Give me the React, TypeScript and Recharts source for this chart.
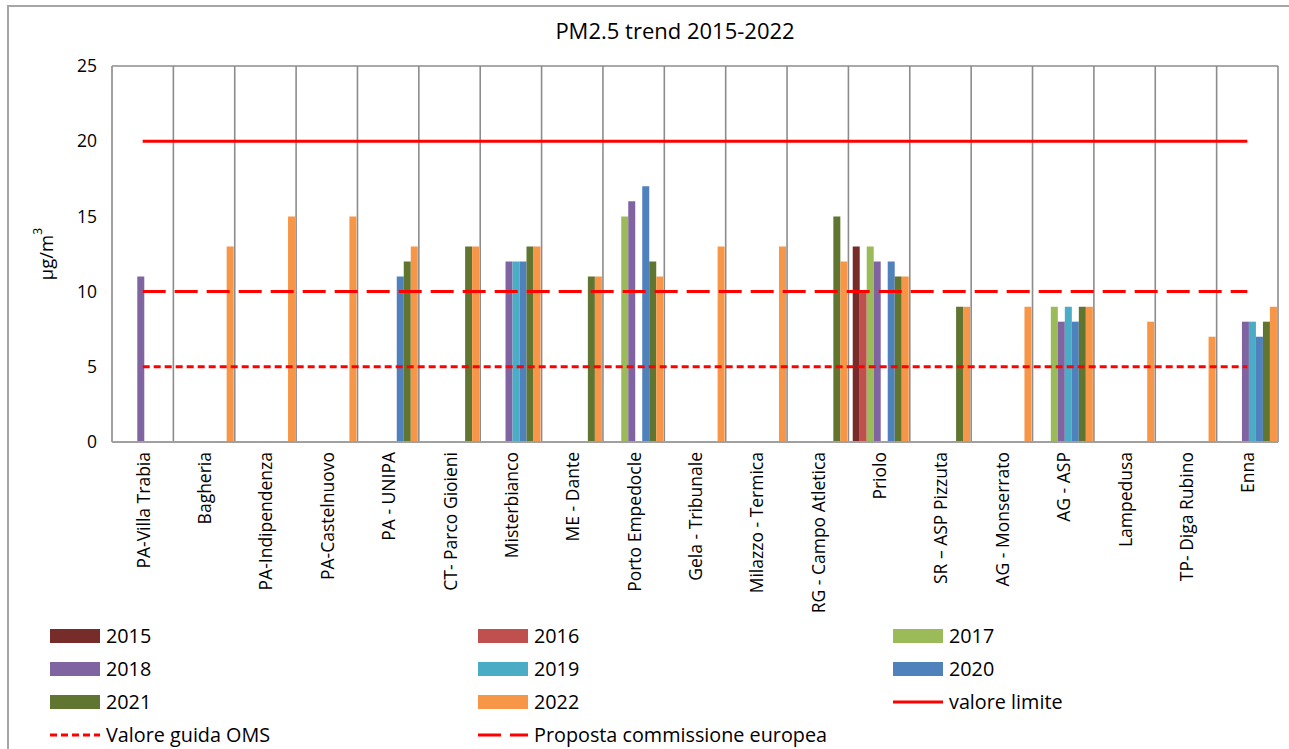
import React from 'react';
import { ComposedChart, Bar, Line, XAxis, YAxis, CartesianGrid, Legend } from 'recharts';

const stations = [
  'PA-Villa Trabia', 'Bagheria', 'PA-Indipendenza', 'PA-Castelnuovo', 'PA - UNIPA',
  'CT- Parco Gioieni', 'Misterbianco', 'ME - Dante', 'Porto Empedocle', 'Gela - Tribunale',
  'Milazzo - Termica', 'RG - Campo Atletica', 'Priolo', 'SR \u2013 ASP Pizzuta', 'AG - Monserrato',
  'AG - ASP', 'Lampedusa', 'TP- Diga Rubino', 'Enna',
];

const v2015 = [null, null, null, null, null, null, null, null, null, null, null, null, 13, null, null, null, null, null, null];
const v2016 = [null, null, null, null, null, null, null, null, null, null, null, null, 10, null, null, null, null, null, null];
const v2017 = [null, null, null, null, null, null, null, null, 15, null, null, null, 13, null, null, 9, null, null, null];
const v2018 = [11, null, null, null, null, null, 12, null, 16, null, null, null, 12, null, null, 8, null, null, 8];
const v2019 = [null, null, null, null, null, null, 12, null, null, null, null, null, null, null, null, 9, null, null, 8];
const v2020 = [null, null, null, null, 11, null, 12, null, 17, null, null, null, 12, null, null, 8, null, null, 7];
const v2021 = [null, null, null, null, 12, 13, 13, 11, 12, null, null, 15, 11, 9, null, 9, null, null, 8];
const v2022 = [null, 13, 15, 15, 13, 13, 13, 11, 11, 13, 13, 12, 11, 9, 9, 9, 8, 7, 9];
const valoreLimite = [20, 20, 20, 20, 20, 20, 20, 20, 20, 20, 20, 20, 20, 20, 20, 20, 20, 20, 20];
const valoreGuidaOMS = [5, 5, 5, 5, 5, 5, 5, 5, 5, 5, 5, 5, 5, 5, 5, 5, 5, 5, 5];
const propostaCE = [10, 10, 10, 10, 10, 10, 10, 10, 10, 10, 10, 10, 10, 10, 10, 10, 10, 10, 10];

const yTicks = [0, 5, 10, 15, 20, 25];

const barSeries = [
  { key: 'y2015', name: '2015', color: '#772C2A', values: v2015 },
  { key: 'y2016', name: '2016', color: '#C0504D', values: v2016 },
  { key: 'y2017', name: '2017', color: '#9BBB59', values: v2017 },
  { key: 'y2018', name: '2018', color: '#8064A2', values: v2018 },
  { key: 'y2019', name: '2019', color: '#4BACC6', values: v2019 },
  { key: 'y2020', name: '2020', color: '#4F81BD', values: v2020 },
  { key: 'y2021', name: '2021', color: '#5F7530', values: v2021 },
  { key: 'y2022', name: '2022', color: '#F79646', values: v2022 },
];

const lineSeries = [
  { key: 'limite', name: 'valore limite', color: '#FF0000', dash: undefined as string | undefined, values: valoreLimite },
  { key: 'oms', name: 'Valore guida OMS', color: '#FF0000', dash: '7 4', values: valoreGuidaOMS },
  { key: 'ce', name: 'Proposta commissione europea', color: '#FF0000', dash: '23 9', values: propostaCE },
];

const data = stations.map((s, i) => {
  const row: Record<string, any> = { station: s };
  barSeries.forEach((b) => { row[b.key] = b.values[i]; });
  lineSeries.forEach((l) => { row[l.key] = l.values[i]; });
  return row;
});

const FONT = '"Open Sans", "Noto Sans", sans-serif';
const W = 1289;
const H = 749;
const LEGEND_H = 130;

const XTick = (props: any) => {
  const { x, y, payload } = props;
  return (
    <text
      x={x}
      y={y}
      transform={`rotate(-90, ${x}, ${y})`}
      textAnchor="end"
      dominantBaseline="central"
      fontSize={17.5}
      fontFamily={FONT}
      fill="#000"
    >
      {payload.value}
    </text>
  );
};

const YLabel = (props: any) => {
  const vb = props.viewBox || {};
  const cy = (vb.y ?? 0) + (vb.height ?? 0) / 2;
  const cx = 45;
  return (
    <text
      x={cx}
      y={cy}
      transform={`rotate(-90, ${cx}, ${cy})`}
      textAnchor="middle"
      dominantBaseline="central"
      fontSize={18.5}
      fontFamily={FONT}
      fill="#000"
    >
      µg/m<tspan dy={-8} fontSize={12}>3</tspan>
    </text>
  );
};

const order = [...barSeries.map((b) => b.name), ...lineSeries.map((l) => l.name)];

const LegendContent = (props: any) => {
  const payload: any[] = (props.payload || []).slice();
  payload.sort((a, b) => order.indexOf(a.value) - order.indexOf(b.value));
  const colX = [50, 478, 893];
  return (
    <div style={{ position: 'relative', width: W, height: LEGEND_H, fontFamily: FONT }}>
      {payload.map((p, i) => {
        const col = i % 3;
        const row = Math.floor(i / 3);
        const line = lineSeries.find((l) => l.name === p.value);
        return (
          <div
            key={p.value}
            style={{
              position: 'absolute',
              left: colX[col],
              top: row * 33,
              height: 33,
              display: 'flex',
              alignItems: 'center',
              fontSize: 19.8,
              color: '#000',
              whiteSpace: 'nowrap',
            }}
          >
            <svg width={51} height={16} style={{ marginRight: 5 }}>
              {line ? (
                <line x1={0} y1={8} x2={50} y2={8} stroke={line.color} strokeWidth={3} strokeDasharray={line.dash} />
              ) : (
                <rect x={0} y={1} width={50} height={14} fill={p.color} />
              )}
            </svg>
            <span>{p.value}</span>
          </div>
        );
      })}
    </div>
  );
};

export default function App() {
  return (
    <div style={{ position: 'absolute', left: 0, top: 0, width: W, height: H, background: '#fff', overflow: 'hidden' }}>
      <div
        style={{
          position: 'absolute', left: 7, top: 5, width: W + 20, height: H + 20,
          borderLeft: '2px solid #a6a6a6', borderTop: '2px solid #a6a6a6', boxSizing: 'border-box',
        }}
      />
      <div
        style={{
          position: 'absolute', left: 0, top: 16, width: 1350, textAlign: 'center',
          fontFamily: FONT, fontSize: 22, color: '#000', lineHeight: '28px',
        }}
      >
        PM2.5 trend 2015-2022
      </div>
      <div style={{ position: 'absolute', left: 0, top: 0 }}>
        <ComposedChart
          width={W}
          height={H}
          data={data}
          margin={{ top: 66, right: 11, left: 0, bottom: 0 }}
          barGap={0}
          barCategoryGap="7%"
          style={{ fontFamily: FONT }}
        >
          <CartesianGrid
            stroke="#8c8c8c"
            strokeWidth={1.6}
            verticalCoordinatesGenerator={({ offset }: any) =>
              stations.map((_, i) => offset.left + ((i + 1) * offset.width) / stations.length)
            }
            horizontalCoordinatesGenerator={({ offset }: any) => [offset.top]}
          />
          <XAxis
            dataKey="station"
            interval={0}
            tickLine={false}
            tickSize={0}
            tickMargin={10}
            height={177}
            axisLine={{ stroke: '#a0a0a0', strokeWidth: 2 }}
            tick={<XTick />}
          />
          <YAxis
            domain={[0, 25]}
            ticks={yTicks}
            width={112}
            tickLine={false}
            tickSize={0}
            tickMargin={15}
            axisLine={{ stroke: '#a0a0a0', strokeWidth: 2 }}
            tick={{ fontSize: 17.5, fill: '#000', fontFamily: FONT }}
            label={{ content: <YLabel /> }}
          />
          {barSeries.map((b) => (
            <Bar key={b.key} dataKey={b.key} name={b.name} fill={b.color} isAnimationActive={false} />
          ))}
          {lineSeries.map((l) => (
            <Line
              key={l.key}
              type="linear"
              dataKey={l.key}
              name={l.name}
              stroke={l.color}
              strokeWidth={3}
              strokeDasharray={l.dash}
              dot={false}
              activeDot={false}
              isAnimationActive={false}
            />
          ))}
          <Legend
            verticalAlign="bottom"
            content={<LegendContent />}
            wrapperStyle={{ left: 0, width: W, height: LEGEND_H }}
          />
        </ComposedChart>
      </div>
    </div>
  );
}
